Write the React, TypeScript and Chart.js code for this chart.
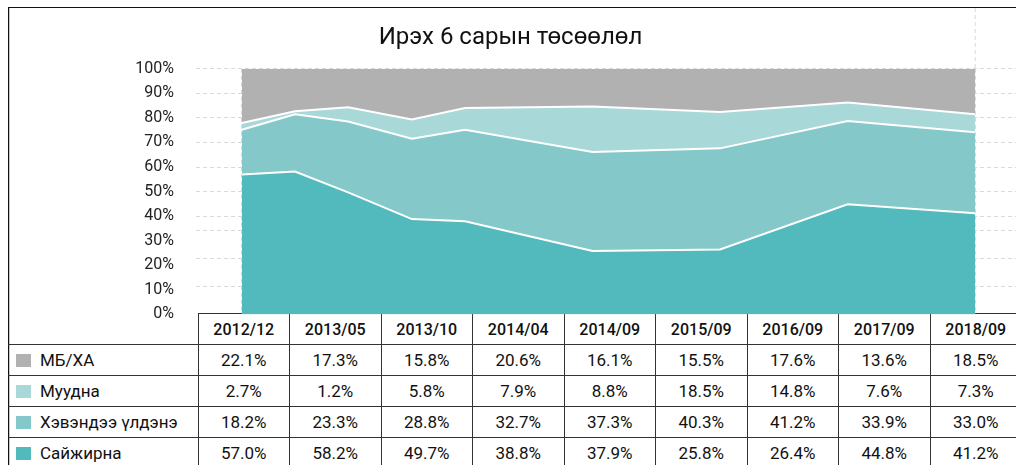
import React, { useEffect, useRef } from "react";
import { Chart, registerables } from "chart.js";

Chart.register(...registerables);

const categories = ["2012/12", "2013/05", "2013/10", "2014/04", "2014/09", "2015/09", "2016/09", "2017/09", "2018/09"];
const mbxa = [22.1, 17.3, 15.8, 20.6, 16.1, 15.5, 17.6, 13.6, 18.5];
const muudna = [2.7, 1.2, 5.8, 7.9, 8.8, 18.5, 14.8, 7.6, 7.3];
const hevendee = [18.2, 23.3, 28.8, 32.7, 37.3, 40.3, 41.2, 33.9, 33.0];
const saijirna = [57.0, 58.2, 49.7, 38.8, 37.9, 25.8, 26.4, 44.8, 41.2];
const yTickStep = 10;
const yMax = 100;

const seriesNames = ["МБ/ХА", "Муудна", "Хэвэндээ үлдэнэ", "Сайжирна"];
const seriesColors = ["#b1b1b1", "#a9d8d9", "#85c8ca", "#52b9bc"];
const seriesValues = [mbxa, muudna, hevendee, saijirna];

const FONT = 'Roboto, "Liberation Sans", sans-serif';

const monthIndex = (s: string) => {
  const [y, m] = s.split("/").map(Number);
  return y * 12 + m;
};
const months = categories.map((c) => monthIndex(c) - monthIndex(categories[0]));
const span = months[months.length - 1];
const pad = span / (2 * (categories.length - 1));

const fmt = (v: number) => v.toFixed(1) + "%";

export default function App() {
  const ref = useRef<HTMLCanvasElement>(null);

  useEffect(() => {
    if (!ref.current) return;
    const lastGrid = {
      id: "lastGrid",
      afterDraw(chart: any) {
        const x = chart.scales.x.getPixelForTick(categories.length - 1);
        const c = chart.ctx;
        c.save();
        c.strokeStyle = "#d9d9d9";
        c.lineWidth = 1;
        c.setLineDash([4, 3]);
        c.beginPath();
        c.moveTo(x, 8);
        c.lineTo(x, chart.chartArea.top);
        c.stroke();
        c.restore();
      },
    };
    const ds = [saijirna, hevendee, muudna, mbxa].map((vals, i) => {
      const colorIdx = 3 - i;
      return {
        label: seriesNames[colorIdx],
        data: vals.map((v, k) => ({ x: months[k], y: v })),
        backgroundColor: seriesColors[colorIdx],
        borderColor: i === 3 ? "rgba(0,0,0,0)" : "#ffffff",
        borderWidth: i === 3 ? 0 : 2,
        pointRadius: 0,
        tension: 0,
        fill: i === 0 ? "origin" : "-1",
        xAxisID: "xt",
        yAxisID: "y",
      };
    });
    const chart = new Chart(ref.current, {
      type: "line",
      data: { datasets: ds as any },
      plugins: [lastGrid],
      options: {
        animation: false,
        responsive: false,
        layout: { padding: { left: 0, right: 0, top: 0, bottom: 0 } },
        plugins: {
          legend: { display: false },
          tooltip: { enabled: false },
          title: {
            display: true,
            text: "Ирэх 6 сарын төсөөлөл",
            color: "#111",
            font: { family: FONT, size: 24, weight: "normal" as any },
            padding: { top: 24, bottom: 16 },
          },
        },
        scales: {
          x: {
            type: "category",
            labels: categories,
            offset: true,
            z: 1,
            ticks: { display: false },
            grid: { color: "#d9d9d9", drawTicks: false, offset: false },
            border: { display: false, dash: [4, 3] },
          },
          xt: {
            type: "linear",
            display: false,
            min: -pad,
            max: span + pad,
          },
          y: {
            stacked: true,
            min: 0,
            max: yMax,
            z: 1,
            ticks: {
              stepSize: yTickStep,
              callback: (v: any) => v + "%",
              color: "#222",
              padding: 22,
              font: { family: FONT, size: 16 },
            },
            grid: {
              drawTicks: false,
              color: (c: any) => (c.tick && c.tick.value >= 40 ? "#d9d9d9" : "rgba(0,0,0,0)"),
            },
            border: { display: false, dash: [4, 3] },
            afterFit: (s: any) => {
              s.width = 196;
            },
          },
          y2: {
            position: "right",
            min: 0,
            max: 8.77,
            z: 1,
            ticks: { display: false, stepSize: 1 },
            grid: {
              drawTicks: false,
              color: (c: any) =>
                c.tick && c.tick.value >= 1 && c.tick.value <= 3 ? "#d9d9d9" : "rgba(0,0,0,0)",
            },
            border: { display: false, dash: [4, 3] },
            afterFit: (s: any) => {
              s.width = 0;
            },
          },
        },
      } as any,
    });
    return () => chart.destroy();
  }, []);

  const cellBase: React.CSSProperties = {
    border: "1px solid #333",
    padding: 0,
    textAlign: "center",
    verticalAlign: "middle",
    height: 30,
    overflow: "hidden",
    whiteSpace: "nowrap",
  };

  return (
    <div
      style={{
        position: "fixed",
        left: 0,
        top: 0,
        width: 1016,
        height: 465,
        overflow: "hidden",
        background: "#fff",
        fontFamily: FONT,
        color: "#111",
      }}
    >
      <div style={{ position: "absolute", left: 8, top: 7, width: 1100, height: 1, background: "#111" }} />
      <div style={{ position: "absolute", left: 8, top: 7, width: 1, height: 500, background: "#111" }} />
      <div style={{ position: "absolute", left: 9, top: 8, width: 1, height: 500, background: "#c8c8c8" }} />
      <table
        style={{
          position: "absolute",
          left: 8,
          top: 313,
          borderCollapse: "collapse",
          tableLayout: "fixed",
          width: 190 + 9 * 91.5,
          fontSize: 17,
        }}
      >
        <colgroup>
          <col style={{ width: 190 }} />
          {categories.map((c) => (
            <col key={c} style={{ width: 91.5 }} />
          ))}
        </colgroup>
        <tbody>
          <tr>
            <td style={{ ...cellBase, borderTop: "none", borderLeft: "none" }} />
            {categories.map((c) => (
              <td key={c} style={{ ...cellBase, fontWeight: 500, fontSize: 16 }}>
                {c}
              </td>
            ))}
          </tr>
          {seriesNames.map((name, r) => (
            <tr key={name}>
              <td style={{ ...cellBase, textAlign: "left", borderLeft: "none" }}>
                <span
                  style={{
                    display: "inline-block",
                    width: 15,
                    height: 13,
                    background: seriesColors[r],
                    marginLeft: 8,
                    marginRight: 9,
                    verticalAlign: "-1px",
                  }}
                />
                {name}
              </td>
              {seriesValues[r].map((v, k) => (
                <td key={k} style={cellBase}>
                  {fmt(v)}
                </td>
              ))}
            </tr>
          ))}
        </tbody>
      </table>
      <canvas
        ref={ref}
        width={1021}
        height={346}
        style={{ position: "absolute", left: 0, top: 0, width: 1021, height: 346 }}
      />
    </div>
  );
}
